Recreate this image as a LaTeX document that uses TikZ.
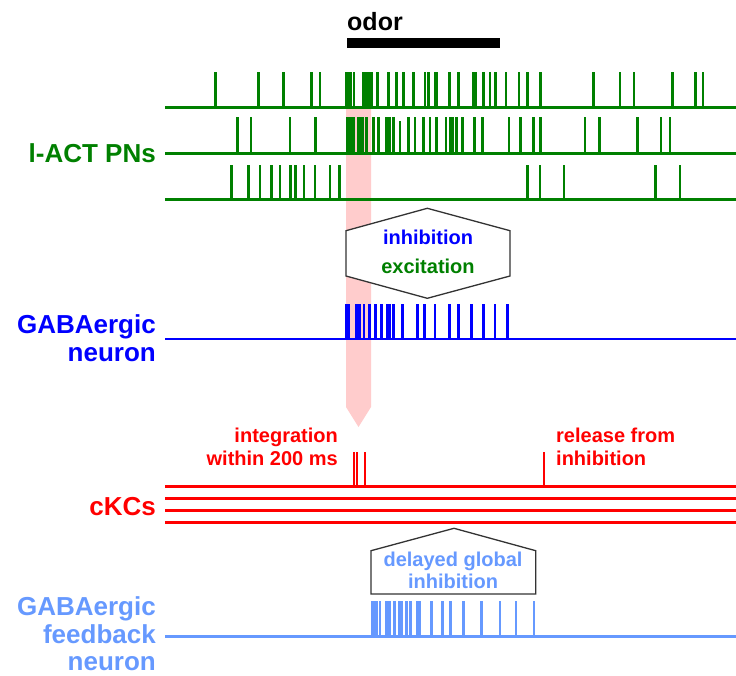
\documentclass[tikz,border=0pt]{standalone}
\usepackage{fontspec}
\setmainfont{Liberation Sans}
\usetikzlibrary{positioning}

\definecolor{pngreen}{HTML}{008000}
\definecolor{gabablue}{HTML}{0000FF}
\definecolor{kcred}{HTML}{FF0000}
\definecolor{fbblue}{HTML}{6699FF}
\definecolor{odorpink}{HTML}{FFCCCC}

\tikzset{
  biglabel/.style={font=\bfseries\fontsize{26}{27}\selectfont, inner sep=0pt},
  smalllabel/.style={font=\bfseries\fontsize{20}{22}\selectfont, inner sep=0pt},
  train/.style={line width=3pt},
  spike/.style={line width=2.5pt},
  callout/.style={draw=black!80, line width=1.3pt, fill=white},
}

\begin{document}
\begin{tikzpicture}[x=1pt,y=-1pt]
\useasboundingbox[fill=white] (0,0) rectangle (736,676);

% odor window
\fill[odorpink] (346,108) -- (371,108) -- (371,407) -- (358.5,427) -- (346,407) -- cycle;
\node[font=\bfseries\fontsize{25}{26}\selectfont, inner sep=0pt, anchor=base west] (odor) at (347,31) {odor};
\fill (346.5,38) rectangle (500,48);

% PN trains
\begin{scope}[pngreen]
  \draw[train] (165,107.5) -- (736,107.5);
  \draw[train] (165,153.5) -- (736,153.5);
  \draw[train] (165,200) -- (736,200);
  \foreach \x in {215.3,258.3,283.7,311.7,320,346.5,348.5,351,354,377.3,388.3,396.7,403.3,413.3,425,428.3,435,436.7,449.3,458.3,473.3,476,483.3,490,495.3,506,519,527.7,540.7,593.3,620,634,672.3,695.7,703}
    \draw[spike] (\x,107.5) -- (\x,72.5);
  \fill (361.7,72.5) rectangle (373.3,107.5);
  \foreach \x in {237.3,251,290,315.3,366.7,373.3,378.3,386.7,388.5,390,393.3,408.3,415,423.3,430,436.7,446,450,452.3,456.7,462.7,474.3,482.3,509,520.3,533.7,540.7,585,599.3,637.7,661,670}
    \draw[spike] (\x,153.5) -- (\x,117.5);
  \draw[spike] (400,153.5) -- (400,121);
  \fill (345.7,117.5) rectangle (355,153.5);
  \fill (356.7,117.5) rectangle (364,153.5);
  \foreach \x in {231.7,248.3,260,271.7,280,290.7,295.7,304,315,330,339.3,527.7,540,564,655.3,680}
    \draw[spike] (\x,200) -- (\x,165.5);
  \node[biglabel, anchor=base east] (pns) at (156,163) {l-ACT PNs};
\end{scope}

% interaction box
\filldraw[callout] (427.3,208.3) -- (510,230.7) -- (510,276) -- (427.3,298.3) -- (346,276) -- (346,230.7) -- cycle;
\node[smalllabel, gabablue, anchor=base] (inh) at (428,245) {inhibition};
\node[smalllabel, pngreen, anchor=base] (exc) at (428,274) {excitation};

% GABAergic neuron
\begin{scope}[gabablue]
  \draw[line width=2pt] (165,338.5) -- (736,338.5);
  \foreach \x in {346.7,349,356.7,359.3,364,369.3,375.7,381.7,387.3,390,393.3,402.7,417.3,424.3,435,449.3,458.3,471.7,483.3,495,507.3}
    \draw[spike] (\x,338.5) -- (\x,304);
  \node[biglabel, anchor=base east] (gaba1) at (156,334) {GABAergic};
  \node[biglabel, anchor=base east] (gaba2) at (156,361) {neuron};
\end{scope}

% cKCs
\begin{scope}[kcred]
  \foreach \y in {486,498.3,510,522}
    \draw[train] (165,\y) -- (736,\y);
  \foreach \x in {353.5,357,365.3}
    \draw[line width=2pt] (\x,486) -- (\x,452);
  \draw[line width=2pt] (544,486) -- (544,452);
  \node[biglabel, anchor=base east] (ckcs) at (156,515) {cKCs};
  \node[smalllabel, anchor=base east] (integ1) at (338,442.5) {integration};
  \node[smalllabel, anchor=base east] (integ2) at (338,465) {within 200 ms};
  \node[smalllabel, anchor=base west] (rel1) at (556,442.5) {release from};
  \node[smalllabel, anchor=base west] (rel2) at (556,465) {inhibition};
\end{scope}

% feedback inhibition box
\filldraw[callout] (454,528.3) -- (535.7,550.7) -- (535.7,594) -- (371,594) -- (371,550.7) -- cycle;
\node[smalllabel, fbblue, anchor=base] (dgi1) at (453,566.5) {delayed global};
\node[smalllabel, fbblue, anchor=base] (dgi2) at (453,588) {inhibition};

% GABAergic feedback neuron
\begin{scope}[fbblue]
  \draw[line width=2.7pt] (165,636.5) -- (736,636.5);
  \fill (371,601) rectangle (378.3,636.5);
  \fill (385,601) rectangle (391,636.5);
  \fill (398.3,601) rectangle (402.7,636.5);
  \foreach \x in {380,394.3,406.7,410.7,417.7,420,431.7,442.3,450.7,463.3,481.7,500,516,534}
    \draw[spike] (\x,636.5) -- (\x,601);
  \node[biglabel, anchor=base east] (fb1) at (156,615) {GABAergic};
  \node[biglabel, anchor=base east] (fb2) at (156,643) {feedback};
  \node[biglabel, anchor=base east] (fb3) at (156,670) {neuron};
\end{scope}
\end{tikzpicture}
\end{document}
